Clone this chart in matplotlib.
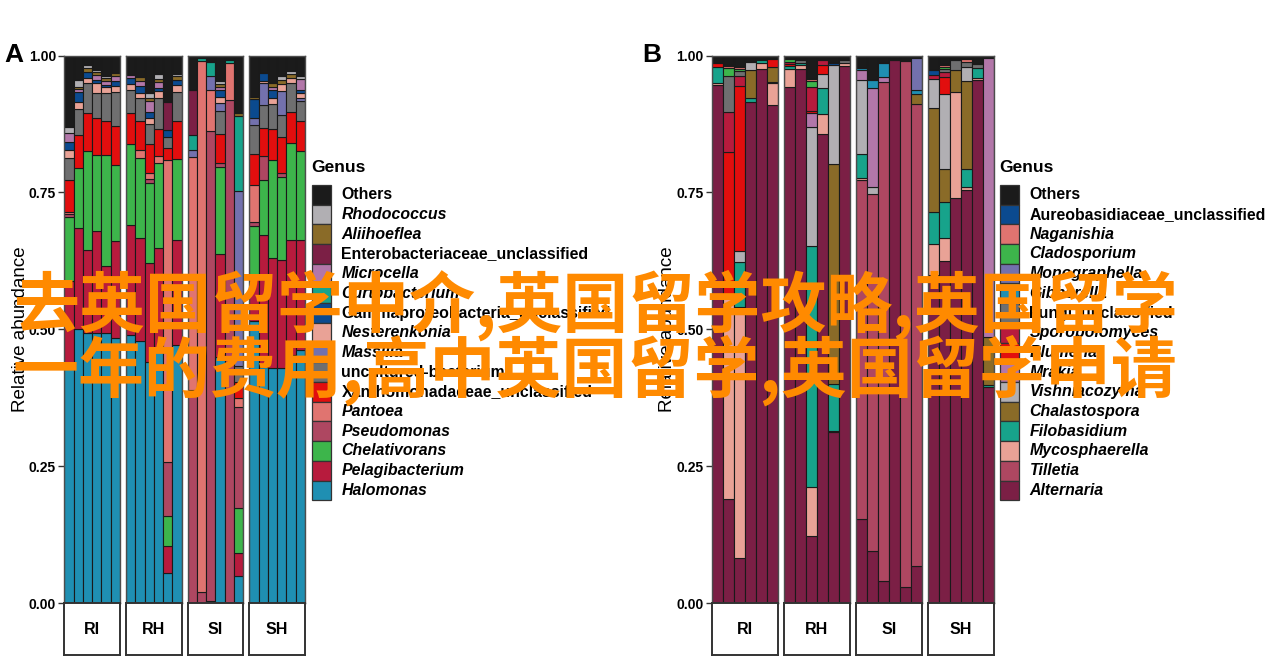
import matplotlib
matplotlib.use("Agg")
import matplotlib.pyplot as plt
from matplotlib.patches import Rectangle

# ---------------- data ----------------
facets = ["RI", "RH", "SI", "SH"]

genera_A = ["Others", "Rhodococcus", "Aliihoeflea", "Enterobacteriaceae_unclassified",
            "Microcella", "Curtobacterium", "Gammaproteobacteria_unclassified",
            "Nesterenkonia", "Massilia", "uncultured-bacterium",
            "Xanthomonadaceae_unclassified", "Pantoea", "Pseudomonas",
            "Chelativorans", "Pelagibacterium", "Halomonas"]
italic_A = [False, True, True, False, True, True, False, True, True, False,
            False, True, True, True, True, True]
colors_A = ["#1b1b1b", "#b1afb3", "#8a6b28", "#7b1f45", "#b277a9", "#17a38b",
            "#0b4a8f", "#e9a296", "#7371ad", "#6f6f70", "#e20e0e", "#e07470",
            "#ae4761", "#3db54b", "#b71b3d", "#1f8fb2"]

# each bar: values in legend order (Others ... Halomonas)
A_RI = [
    [0.130, 0.012, 0, 0, 0.016, 0, 0.014, 0.016, 0, 0.039, 0.058, 0.005, 0.005, 0.116, 0.150, 0.439],
    [0.045, 0.012, 0.004, 0, 0.006, 0, 0.018, 0.012, 0, 0.048, 0.060, 0, 0, 0.110, 0.185, 0.500],
    [0.017, 0.006, 0.008, 0, 0, 0, 0.010, 0.009, 0, 0.055, 0.070, 0, 0, 0.180, 0.152, 0.493],
    [0.026, 0.004, 0.006, 0, 0.008, 0, 0.006, 0.019, 0, 0.045, 0.067, 0, 0, 0.140, 0.185, 0.494],
    [0.037, 0.004, 0.006, 0, 0.006, 0, 0.004, 0.012, 0, 0.051, 0.061, 0, 0, 0.203, 0.123, 0.493],
    [0.032, 0, 0.005, 0, 0.009, 0, 0.009, 0.012, 0, 0.062, 0.070, 0, 0, 0.140, 0.176, 0.485],
]
A_RH = [
    [0.035, 0, 0, 0, 0.006, 0, 0.011, 0.011, 0, 0.042, 0.056, 0, 0, 0.149, 0.200, 0.490],
    [0.039, 0, 0.007, 0, 0.009, 0, 0.014, 0.009, 0, 0.042, 0.052, 0.015, 0, 0.146, 0.189, 0.478],
    [0.068, 0.009, 0.006, 0, 0.021, 0, 0.011, 0.010, 0, 0.037, 0.052, 0.011, 0.008, 0.145, 0.181, 0.441],
    [0.033, 0.009, 0.006, 0, 0.012, 0, 0.004, 0.013, 0, 0.057, 0.050, 0.012, 0, 0.156, 0.183, 0.465],
    [0.084, 0, 0, 0.052, 0, 0, 0.012, 0, 0, 0.021, 0.021, 0.552, 0.098, 0.056, 0.049, 0.055],
    [0.034, 0.004, 0.006, 0, 0, 0, 0.009, 0.014, 0, 0.053, 0.069, 0, 0, 0.147, 0.192, 0.472],
]
A_SI = [
    [0.063, 0, 0, 0.083, 0, 0.026, 0, 0, 0.014, 0, 0, 0.425, 0.389, 0, 0, 0],
    [0.005, 0, 0, 0, 0, 0.005, 0, 0, 0, 0, 0, 0.969, 0.021, 0, 0, 0],
    [0.012, 0, 0, 0, 0, 0.025, 0, 0, 0.026, 0, 0, 0.074, 0.858, 0, 0, 0.005],
    [0.046, 0.006, 0.005, 0, 0.006, 0, 0.012, 0.012, 0.015, 0.042, 0.052, 0, 0.007, 0.159, 0.188, 0.450],
    [0.008, 0, 0, 0, 0, 0.005, 0, 0, 0, 0, 0, 0.069, 0.918, 0, 0, 0],
    [0.105, 0, 0.005, 0, 0, 0.138, 0, 0, 0.318, 0.030, 0.030, 0.016, 0.184, 0.083, 0.042, 0.049],
]
A_SH = [
    [0.075, 0, 0.004, 0, 0, 0, 0.035, 0, 0.012, 0.053, 0.057, 0.068, 0.008, 0.094, 0.078, 0.516],
    [0.032, 0, 0, 0, 0, 0, 0.015, 0.004, 0.040, 0.041, 0.052, 0, 0.043, 0.100, 0.241, 0.432],
    [0.051, 0, 0.006, 0, 0.006, 0, 0.014, 0.011, 0, 0.047, 0.056, 0, 0, 0.179, 0.201, 0.429],
    [0.038, 0.006, 0.008, 0, 0, 0, 0, 0.012, 0.045, 0.040, 0.065, 0, 0.007, 0.152, 0.197, 0.430],
    [0.029, 0.004, 0.008, 0, 0, 0, 0, 0.010, 0, 0.053, 0.055, 0, 0, 0.177, 0.211, 0.453],
    [0.038, 0.005, 0, 0, 0.020, 0, 0.005, 0.010, 0.005, 0.036, 0.055, 0, 0, 0.163, 0.200, 0.463],
]

genera_B = ["Others", "Aureobasidiaceae_unclassified", "Naganishia", "Cladosporium",
            "Monographella", "Gibberella", "Fungi_unclassified", "Sporobolomyces",
            "Blumeria", "Mrakia", "Vishniacozyma", "Chalastospora", "Filobasidium",
            "Mycosphaerella", "Tilletia", "Alternaria"]
italic_B = [False, False, True, True, True, True, False, True, True, True, True,
            True, True, True, True, True]
colors_B = ["#1b1b1b", "#0b4a8f", "#e07470", "#3db54b", "#7371ad", "#1f8fb2",
            "#6f6f70", "#b71b3d", "#e20e0e", "#b277a9", "#b1afb3", "#8a6b28",
            "#17a38b", "#e9a296", "#ae4761", "#7b1f45"]

B_RI = [
    [0.013, 0, 0, 0, 0, 0, 0, 0, 0.008, 0, 0, 0, 0.030, 0.003, 0, 0.946],
    [0.017, 0.003, 0.003, 0.014, 0, 0, 0.066, 0.073, 0.259, 0, 0, 0, 0, 0.375, 0, 0.190],
    [0.021, 0, 0.003, 0.005, 0, 0, 0.008, 0.018, 0.302, 0, 0.020, 0, 0.082, 0.459, 0, 0.082],
    [0.012, 0, 0, 0, 0, 0, 0, 0, 0, 0, 0.015, 0.050, 0.008, 0, 0, 0.915],
    [0.009, 0, 0, 0, 0, 0, 0, 0, 0, 0, 0, 0, 0.005, 0.011, 0, 0.975],
    [0.007, 0, 0, 0, 0, 0, 0, 0, 0.014, 0, 0, 0.027, 0.003, 0.039, 0, 0.910],
]
B_RH = [
    [0.007, 0, 0, 0.005, 0, 0, 0, 0.003, 0.005, 0, 0, 0, 0.004, 0.033, 0, 0.943],
    [0.009, 0, 0, 0, 0, 0, 0.004, 0, 0, 0, 0, 0, 0.004, 0.008, 0, 0.975],
    [0.043, 0, 0.004, 0.010, 0, 0, 0, 0.045, 0.003, 0.025, 0.217, 0, 0.441, 0.089, 0, 0.123],
    [0.008, 0, 0, 0, 0, 0, 0, 0.010, 0.015, 0, 0.026, 0, 0.047, 0.037, 0, 0.857],
    [0.013, 0.005, 0, 0, 0, 0, 0, 0, 0, 0, 0.180, 0.402, 0.085, 0.003, 0, 0.312],
    [0.009, 0, 0, 0, 0, 0, 0.004, 0, 0, 0, 0, 0, 0, 0.006, 0, 0.981],
]
B_SI = [
    [0.022, 0, 0, 0, 0, 0.005, 0, 0, 0, 0.018, 0.134, 0, 0.044, 0.005, 0.618, 0.154],
    [0.045, 0, 0, 0, 0, 0.015, 0, 0, 0, 0.180, 0.012, 0, 0, 0, 0.652, 0.096],
    [0.013, 0, 0, 0, 0, 0.027, 0, 0, 0, 0.008, 0, 0, 0, 0, 0.911, 0.041],
    [0.006, 0, 0, 0, 0, 0, 0, 0, 0, 0, 0, 0.003, 0, 0, 0, 0.991],
    [0.010, 0, 0, 0, 0, 0, 0, 0, 0, 0, 0, 0, 0, 0, 0.961, 0.029],
    [0.004, 0, 0, 0, 0.059, 0.008, 0, 0, 0, 0, 0, 0.017, 0, 0, 0.843, 0.069],
]
B_SH = [
    [0.027, 0.009, 0, 0, 0, 0, 0, 0.006, 0, 0, 0.054, 0.189, 0.059, 0.056, 0, 0.600],
    [0.015, 0.003, 0.003, 0.004, 0, 0, 0.006, 0.008, 0.032, 0, 0.137, 0.059, 0.066, 0.042, 0, 0.625],
    [0.009, 0, 0, 0, 0, 0, 0.018, 0, 0, 0, 0, 0.039, 0, 0.195, 0, 0.739],
    [0.007, 0, 0.004, 0, 0, 0, 0.010, 0, 0, 0, 0.026, 0.160, 0.033, 0.006, 0, 0.754],
    [0.015, 0, 0, 0, 0, 0, 0.008, 0, 0, 0, 0, 0, 0.018, 0.004, 0, 0.955],
    [0.004, 0, 0, 0, 0, 0, 0, 0, 0, 0.510, 0, 0.088, 0.004, 0, 0, 0.394],
]

y_ticks = [0.0, 0.25, 0.50, 0.75, 1.00]
y_ticklabels = ["0.00", "0.25", "0.50", "0.75", "1.00"]
watermark = ["去英国留学中介,英国留学攻略,英国留学", "一年的费用,高中英国留学,英国留学申请"]

# ---------------- layout ----------------
W, H = 1270, 663
plt.rcParams["font.family"] = ["Liberation Sans", "DejaVu Sans"]
fig = plt.figure(figsize=(W / 100, H / 100), dpi=100)


def rect(x0, y0, x1, y1):
    return [x0 / W, 1 - y1 / H, (x1 - x0) / W, (y1 - y0) / H]


PANEL_TOP, PANEL_BOT, STRIP_BOT = 55.5, 603.3, 655.0


def draw_panel(letter, lefts, width, facet_data, colors, genera, italics,
               letter_x, ylabel_x, legend_x):
    for fi, (left, data) in enumerate(zip(lefts, facet_data)):
        ax = fig.add_axes(rect(left, PANEL_TOP, left + width, PANEL_BOT))
        for i, bar in enumerate(data):
            bottom = 0.0
            for g in reversed(range(len(bar))):
                v = bar[g]
                if v <= 0:
                    continue
                ax.bar(i, v, bottom=bottom, width=1.0, color=colors[g],
                       edgecolor="#1a1a1a", linewidth=0.8)
                bottom += v
        ax.set_xlim(-0.5, len(data) - 0.5)
        ax.set_ylim(0, 1)
        ax.set_xticks([])
        for s in ax.spines.values():
            s.set_color("#4d4d4d")
            s.set_linewidth(1.0)
        if fi == 0:
            ax.set_yticks(y_ticks)
            ax.set_yticklabels(y_ticklabels, fontsize=10, fontweight="bold")
            ax.tick_params(axis="y", length=4, width=1, color="#333333", pad=2)
        else:
            ax.set_yticks([])
        sax = fig.add_axes(rect(left, PANEL_BOT, left + width, STRIP_BOT))
        sax.set_xticks([]); sax.set_yticks([])
        for s in sax.spines.values():
            s.set_color("#333333")
            s.set_linewidth(1.4)
        sax.text(0.5, 0.5, facets[fi], ha="center", va="center",
                 fontsize=11.5, fontweight="bold", transform=sax.transAxes)

    fig.text(letter_x / W, 1 - 55 / H, letter, fontsize=19, fontweight="bold",
             ha="left", va="center")
    fig.text(ylabel_x / W, 1 - 329 / H, "Relative abundance", rotation=90,
             fontsize=13.5, ha="center", va="center")

    # legend
    fig.text(legend_x / W, 1 - 167 / H, "Genus", fontsize=12.5, fontweight="bold",
             ha="left", va="center")
    key_top, key_h, key_w = 185.0, 19.7, 19.5
    for k, (name, col, it) in enumerate(zip(genera, colors, italics)):
        y0 = key_top + k * key_h
        fig.add_artist(Rectangle((legend_x / W, 1 - (y0 + key_h) / H),
                                 key_w / W, key_h / H, transform=fig.transFigure,
                                 facecolor=col, edgecolor="#333333", linewidth=0.9))
        fig.text((legend_x + key_w + 10.5) / W, 1 - (y0 + key_h / 2) / H, name,
                 fontsize=11.4, fontweight="bold", style="italic" if it else "normal",
                 ha="left", va="center")


draw_panel("A", [64.3, 126.0, 187.7, 249.3], 55.5,
           [A_RI, A_RH, A_SI, A_SH], colors_A, genera_A, italic_A,
           4, 21, 311.5)
draw_panel("B", [712.0, 783.7, 856.0, 927.7], 65.8,
           [B_RI, B_RH, B_SI, B_SH], colors_B, genera_B, italic_B,
           642, 667, 999.5)

# watermark overlay
for line, yc in zip(watermark, [305, 370]):
    fig.text(595 / W, 1 - yc / H, line, fontsize=47.5, color="#ff8a00",
             family=["Noto Sans CJK SC", "DejaVu Sans"], fontweight="bold",
             ha="center", va="center", zorder=100)

fig.savefig("out.png", dpi=100)
